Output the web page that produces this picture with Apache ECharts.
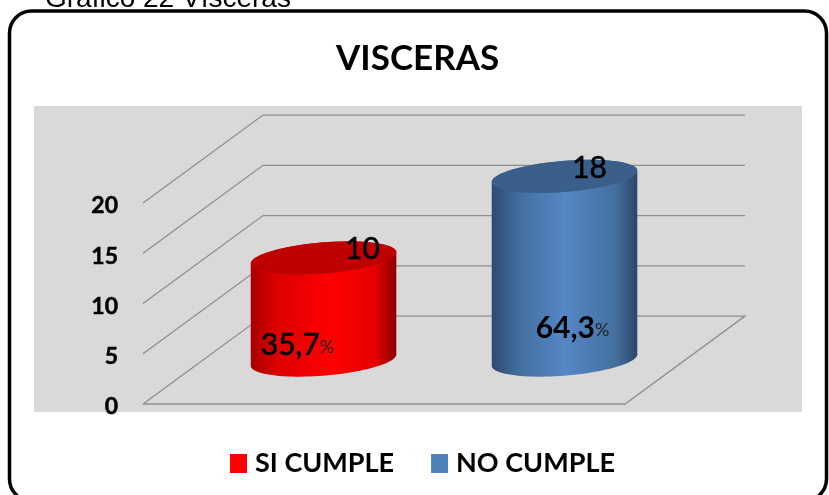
<!DOCTYPE html>
<html>
<head>
<meta charset="utf-8">
<title>Visceras</title>
<style>
    html, body { margin: 0; padding: 0; background: #fff; }
    #chart { width: 829px; height: 495px; }
</style>
<script src="https://cdn.jsdelivr.net/npm/echarts@6/dist/echarts.min.js"></script>
</head>
<body>
<div id="chart"></div>
<script>
'use strict';
const categories = ["SI CUMPLE", "NO CUMPLE"];
const counts = [10, 18];
const percents = ["35,7", "64,3"];
const yTicks = [0, 5, 10, 15, 20];

const font = "Lato";
const wallColor = "#8e8e8e";
// depth of the floor, as a share of one category band
const depthX = 0.498, depthY = -0.365;
const heightScale = 1.015;

function depth(api) {
    const band = api.size([1, 0])[0];
    return [band * depthX, band * depthY];
}

// wall lines, one per y tick, plus the floor edges on tick 0
function renderWall(params, api) {
    const d = depth(api);
    const band = api.size([1, 0])[0];
    const start = api.coord([0, api.value(0)]);
    const x0 = start[0] - band / 2, y0 = start[1];
    const back = [x0 + d[0], y0 + d[1]];
    const wide = band * 2;
    const points = [[x0, y0], back, [back[0] + wide, back[1]]];
    if (api.value(0) === 0) {
        points.push([x0 + wide, y0], [x0, y0]);
    }
    return {
        type: "polyline",
        shape: { points },
        style: { fill: null, stroke: wallColor, lineWidth: 1.3 }
    };
}

function cylinderRender(look) {
    return (params, api) => {
        const idx = api.value(0);
        const d = depth(api);
        const a = api.size([1, 0])[0] * 0.302;
        const zero = api.coord([idx, 0]);
        const top = api.coord([idx, api.value(1)]);
        const cx = zero[0] + d[0] * 0.5;
        const baseY = zero[1] + d[1] * 0.5;
        const topY = baseY - (zero[1] - top[1]) * heightScale;
        const b = a * 0.215, tilt = a * 0.078;
        const rim = (cy, from, to) => {
            const out = [];
            for (let i = 0; i <= 48; i++) {
                const t = from + (to - from) * i / 48;
                out.push([cx + a * Math.cos(t), cy - tilt * Math.cos(t) + b * Math.sin(t)]);
            }
            return out;
        };
        const side = rim(baseY, 0, Math.PI).concat(rim(topY, Math.PI, 2 * Math.PI));
        return {
            type: "group",
            children: [{
                type: "polygon",
                shape: { points: side },
                style: {
                    fill: new echarts.graphic.LinearGradient(0, 0, 1, 0, look.side)
                }
            }, {
                type: "polygon",
                shape: { points: rim(topY, 0, 2 * Math.PI) },
                style: { fill: look.cap }
            }, {
                type: "text",
                x: cx + look.countAt[0],
                y: topY + look.countAt[1],
                style: {
                    text: String(api.value(1)),
                    font: `400 30px ${font}`,
                    fill: "#000",
                    stroke: "#000",
                    lineWidth: 0.6,
                    align: "center",
                    verticalAlign: "middle"
                }
            }, {
                type: "text",
                x: cx + look.pctAt[0],
                y: baseY + look.pctAt[1],
                style: {
                    text: `{n|${percents[idx]}}{p|%}`,
                    align: "center",
                    verticalAlign: "middle",
                    rich: {
                        n: { font: `${look.pctWeight} 30px ${font}`, fill: "#000", stroke: "#000", lineWidth: look.pctStroke },
                        p: { font: `400 18px ${font}`, fill: "#222", padding: [5, 0, 0, 0] }
                    }
                }
            }]
        };
    };
}

const looks = [{
    color: "#ff0000",
    cap: "#bf0000",
    side: [
        { offset: 0, color: "#a80000" },
        { offset: 0.18, color: "#dd0000" },
        { offset: 0.55, color: "#ff0000" },
        { offset: 0.85, color: "#e60000" },
        { offset: 1, color: "#8c0000" }
    ],
    countAt: [39, -9],
    pctAt: [-26, -15],
    pctWeight: 400,
    pctStroke: 0.6
}, {
    color: "#4f81bd",
    cap: "#3a5f8b",
    side: [
        { offset: 0, color: "#2d4a70" },
        { offset: 0.2, color: "#44709f" },
        { offset: 0.5, color: "#5587c6" },
        { offset: 0.85, color: "#44709f" },
        { offset: 1, color: "#2b4568" }
    ],
    countAt: [25, -8],
    pctAt: [8, -32],
    pctWeight: 700,
    pctStroke: 0
}];

const myChart = echarts.init(document.getElementById("chart"));

const option = {
    animation: false,
    backgroundColor: "#fff",
    title: {
        text: "VISCERAS",
        left: 336,
        top: 41,
        padding: 0,
        textStyle: { fontFamily: font, fontWeight: 700, fontSize: 35, color: "#000" }
    },
    legend: {
        data: categories,
        left: 230,
        top: 450,
        padding: 0,
        itemWidth: 17,
        itemHeight: 19,
        itemGap: 37,
        icon: "rect",
        textStyle: { fontFamily: font, fontWeight: 700, fontSize: 27, color: "#000", padding: [0, 0, 0, 3] }
    },
    grid: { left: 143, right: 204, top: 203, bottom: 91 },
    xAxis: {
        type: "category",
        data: categories,
        axisLine: { show: false },
        axisTick: { show: false },
        axisLabel: { show: false }
    },
    yAxis: {
        type: "value",
        min: 0,
        max: 20,
        interval: 5,
        axisLine: { show: false },
        axisTick: { show: false },
        splitLine: { show: false },
        axisLabel: {
            margin: 25,
            verticalAlign: "top",
            lineHeight: 6,
            fontFamily: font,
            fontWeight: 700,
            fontSize: 23,
            color: "#000",
            textBorderColor: "#000",
            textBorderWidth: 0.5
        }
    },
    graphic: [{
        type: "text",
        z: 5,
        x: 45,
        y: 13,
        style: {
            text: "Gráfico 22 Vísceras",
            font: "28px 'Liberation Sans'",
            fill: "#000",
            verticalAlign: "bottom"
        }
    }, {
        type: "rect",
        z: -2,
        shape: { x: 9.5, y: 11, width: 817, height: 490, r: 22 },
        style: { fill: "#fff", stroke: "#000", lineWidth: 3.5 }
    }, {
        type: "rect",
        z: -1,
        shape: { x: 34, y: 106, width: 768, height: 306 },
        style: { fill: "#d9d9d9" }
    }],
    series: [{
        type: "custom",
        name: "paredes",
        renderItem: renderWall,
        data: yTicks.map(v => [v]),
        encode: { y: 0 },
        silent: true,
        z: 1
    }].concat(categories.map((name, i) => ({
        type: "custom",
        name,
        itemStyle: { color: looks[i].color },
        renderItem: cylinderRender(looks[i]),
        data: [[i, counts[i]]],
        encode: { x: 0, y: 1 },
        z: 2
    })))
};

myChart.setOption(option);
</script>
</body>
</html>
